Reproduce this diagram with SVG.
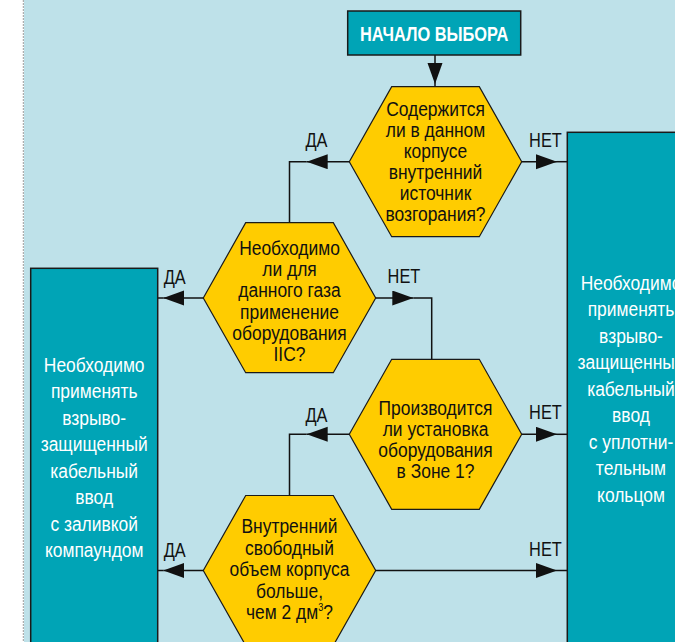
<svg xmlns="http://www.w3.org/2000/svg" width="675" height="642" viewBox="0 0 675 642">
<defs>
<style>
.bg{fill:#BEE1E9}
.box{fill:#00A4B6;stroke:#1a1a1a;stroke-width:1.5}
.hex{fill:#FFCC00;stroke:#1a1a1a;stroke-width:1.2}
.ln{fill:none;stroke:#111;stroke-width:1.5}
.t{font-family:"Liberation Sans",Arial,sans-serif;font-size:21px;text-anchor:middle}
.dk{fill:#111}
.wh{fill:#fff}
.lb{font-family:"Liberation Sans",Arial,sans-serif;font-size:19.5px;text-anchor:middle;fill:#111}
</style>
<marker id="ah" markerUnits="userSpaceOnUse" markerWidth="22" markerHeight="16" refX="21" refY="7.5" orient="auto">
<path d="M0,0 L21,7.5 L0,15 z" fill="#111"/>
</marker>
</defs>
<rect x="0" y="0" width="675" height="642" fill="#fff"/>
<rect class="bg" x="24" y="0" width="651" height="642"/>
<line x1="23.3" y1="0" x2="23.3" y2="642" stroke="#9a9a9a" stroke-width="1" stroke-dasharray="2,1"/>

<g id="connectors">
<path class="ln" d="M435,55 V84" marker-end="url(#ah)"/>
<path class="ln" d="M435,84 V87"/>
<path class="ln" d="M521.7,161.7 H557" marker-end="url(#ah)"/>
<path class="ln" d="M557,161.7 H567.3"/>
<path class="ln" d="M349.3,161.7 H306.7" marker-end="url(#ah)"/>
<path class="ln" d="M306.7,161.7 H289.5 V222.7"/>
<path class="ln" d="M203.3,298 H163.3" marker-end="url(#ah)"/>
<path class="ln" d="M163.3,298 H157.7"/>
<path class="ln" d="M375.7,298 H413.3" marker-end="url(#ah)"/>
<path class="ln" d="M413.3,298 H431.7 V359.3"/>
<path class="ln" d="M349.3,434.3 H306.7" marker-end="url(#ah)"/>
<path class="ln" d="M306.7,434.3 H289.5 V495.5"/>
<path class="ln" d="M521.7,434.3 H557" marker-end="url(#ah)"/>
<path class="ln" d="M557,434.3 H567.3"/>
<path class="ln" d="M203.3,570.5 H163.3" marker-end="url(#ah)"/>
<path class="ln" d="M163.3,570.5 H157.7"/>
<path class="ln" d="M375.7,570.5 H557" marker-end="url(#ah)"/>
<path class="ln" d="M557,570.5 H567.3"/>
<text class="lb" x="316.5" y="146.7" transform="matrix(0.84 0 0 1 50.64 0)">ДА</text>
<text class="lb" x="545.5" y="146.7" transform="matrix(0.84 0 0 1 87.28 0)">НЕТ</text>
<text class="lb" x="174.7" y="284" transform="matrix(0.84 0 0 1 27.952 0)">ДА</text>
<text class="lb" x="404" y="283.3" transform="matrix(0.84 0 0 1 64.64 0)">НЕТ</text>
<text class="lb" x="316.5" y="421.7" transform="matrix(0.84 0 0 1 50.64 0)">ДА</text>
<text class="lb" x="545.5" y="419.3" transform="matrix(0.84 0 0 1 87.28 0)">НЕТ</text>
<text class="lb" x="174.7" y="556.7" transform="matrix(0.84 0 0 1 27.952 0)">ДА</text>
<text class="lb" x="545.5" y="556" transform="matrix(0.84 0 0 1 87.28 0)">НЕТ</text>
</g>

<g id="start">
<rect class="box" x="347.7" y="11" width="173" height="44"/>
<text class="t wh" x="434.2" y="41" style="font-weight:bold;font-size:20px" transform="matrix(0.82 0 0 1 78.156 0)">НАЧАЛО ВЫБОРА</text>
</g>

<g id="q1">
<polygon class="hex" points="391.7,86.7 479.3,86.7 521.7,161.7 479.3,236.7 391.7,236.7 349.3,161.7"/>
<g transform="matrix(0.83 0 0 1 74.035 0)">
<text class="t dk" x="435.5" y="116.5">Содержится</text>
<text class="t dk" x="435.5" y="137.5">ли в данном</text>
<text class="t dk" x="435.5" y="158.5">корпусе</text>
<text class="t dk" x="435.5" y="179.5">внутренний</text>
<text class="t dk" x="435.5" y="200.5">источник</text>
<text class="t dk" x="435.5" y="221.5">возгорания?</text>
</g>
</g>

<g id="q2">
<polygon class="hex" points="245.7,222.7 333.3,222.7 375.7,298 333.3,372.7 245.7,372.7 203.3,298"/>
<g transform="matrix(0.83 0 0 1 49.215 0)">
<text class="t dk" x="289.5" y="255">Необходимо</text>
<text class="t dk" x="289.5" y="276.2">ли для</text>
<text class="t dk" x="289.5" y="297.4">данного газа</text>
<text class="t dk" x="289.5" y="318.6">применение</text>
<text class="t dk" x="289.5" y="339.8">оборудования</text>
<text class="t dk" x="289.5" y="361">IIC?</text>
</g>
</g>

<g id="q3">
<polygon class="hex" points="391.7,359.3 479.3,359.3 521.7,434.3 479.3,509.3 391.7,509.3 349.3,434.3"/>
<g transform="matrix(0.83 0 0 1 74.035 0)">
<text class="t dk" x="435.5" y="415">Производится</text>
<text class="t dk" x="435.5" y="436">ли установка</text>
<text class="t dk" x="435.5" y="457">оборудования</text>
<text class="t dk" x="435.5" y="478">в Зоне 1?</text>
</g>
</g>

<g id="q4">
<polygon class="hex" points="245.7,495.5 333.3,495.5 375.7,570.5 333.3,645.5 245.7,645.5 203.3,570.5"/>
<g transform="matrix(0.83 0 0 1 49.215 0)">
<text class="t dk" x="289.5" y="533.5">Внутренний</text>
<text class="t dk" x="289.5" y="555">свободный</text>
<text class="t dk" x="289.5" y="576.5">объем корпуса</text>
<text class="t dk" x="289.5" y="598">больше,</text>
<text class="t dk" x="289.5" y="619.5">чем 2 дм<tspan dy="-8" style="font-size:11px">3</tspan><tspan dy="8">?</tspan></text>
</g>
</g>

<g id="left-result">
<rect class="box" x="30.7" y="268.3" width="127" height="400"/>
<g transform="matrix(0.83 0 0 1 16.014 0)">
<text class="t wh" x="94.2" y="372">Необходимо</text>
<text class="t wh" x="94.2" y="398.5">применять</text>
<text class="t wh" x="94.2" y="425">взрыво-</text>
<text class="t wh" x="94.2" y="451.5">защищенный</text>
<text class="t wh" x="94.2" y="478">кабельный</text>
<text class="t wh" x="94.2" y="504.5">ввод</text>
<text class="t wh" x="94.2" y="531">с заливкой</text>
<text class="t wh" x="94.2" y="557.5">компаундом</text>
</g>
</g>

<g id="right-result">
<rect class="box" x="567.3" y="132.3" width="140" height="540"/>
<g transform="matrix(0.83 0 0 1 107.27 0)">
<text class="t wh" x="631" y="290">Необходимо</text>
<text class="t wh" x="631" y="316.5">применять</text>
<text class="t wh" x="631" y="343">взрыво-</text>
<text class="t wh" x="631" y="369.5">защищенный</text>
<text class="t wh" x="631" y="396">кабельный</text>
<text class="t wh" x="631" y="422.5">ввод</text>
<text class="t wh" x="631" y="449">с уплотни-</text>
<text class="t wh" x="631" y="475.5">тельным</text>
<text class="t wh" x="631" y="502">кольцом</text>
</g>
</g>
</svg>
